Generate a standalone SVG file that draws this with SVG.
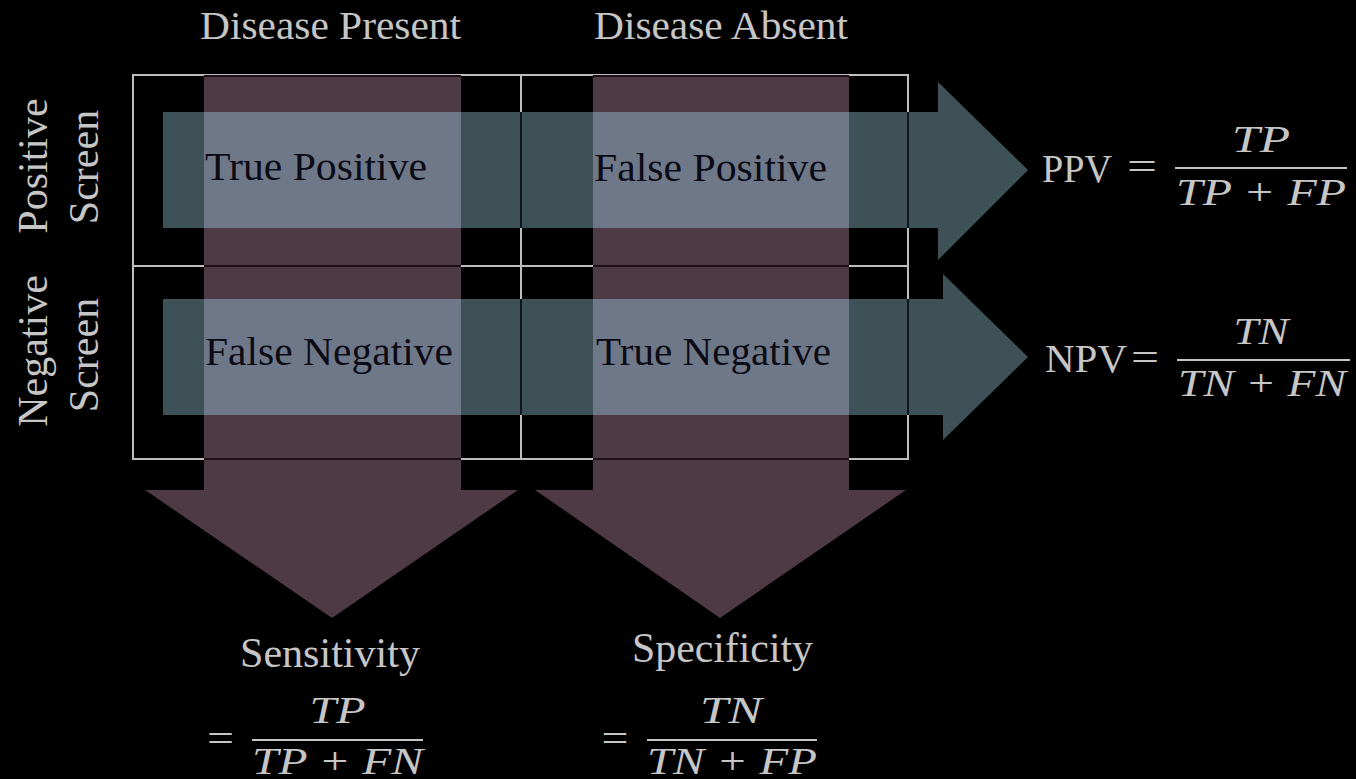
<svg xmlns="http://www.w3.org/2000/svg" width="1356" height="779" viewBox="0 0 1356 779">
  <style>
    .label { font-family: "Liberation Serif", "Times New Roman", serif; fill: #c6c6c6; }
    .cell { font-family: "Liberation Serif", "Times New Roman", serif; font-size: 41px; fill: #0b0b16; }
    .math { font-family: "Liberation Serif", "Times New Roman", serif; font-style: italic; font-size: 38px; fill: #c6c6c6; }
    .grid { stroke: #bdbdbd; stroke-width: 2; fill: none; }
    .down { fill: #4e3a44; }
    .right { fill: #3d5157; }
    .overlap { fill: #6f7888; }
    .seam-v { stroke: #0c161b; stroke-width: 2; }
    .seam-h { stroke: #1e0e16; stroke-width: 2; }
    .bar { stroke: #c6c6c6; stroke-width: 2.2; }
  </style>

  <rect width="1356" height="779" fill="#000"/>

  <!-- 2x2 table frame -->
  <g id="grid">
    <rect class="grid" x="133" y="75" width="775" height="384"/>
    <line class="grid" x1="133" y1="266" x2="908" y2="266"/>
    <line class="grid" x1="521" y1="75" x2="521" y2="459"/>
  </g>

  <g id="connectors">
    <!-- column arrows -->
    <polygon class="down" points="204,75 461,75 461,490 518,490 332,618 145,490 204,490"/>
    <polygon class="down" points="593,75 849,75 849,490 906,490 720,618 535,490 593,490"/>
    <!-- grid lines seen through the column arrows -->
    <line class="seam-h" x1="204" y1="76" x2="461" y2="76"/>
    <line class="seam-h" x1="204" y1="266" x2="461" y2="266"/>
    <line class="seam-h" x1="204" y1="459" x2="461" y2="459"/>
    <line class="seam-h" x1="593" y1="76" x2="849" y2="76"/>
    <line class="seam-h" x1="593" y1="266" x2="849" y2="266"/>
    <line class="seam-h" x1="593" y1="459" x2="849" y2="459"/>

    <!-- row arrows -->
    <polygon class="right" points="163,112 938,112 938,82 1028,170 938,260 938,228 163,228"/>
    <polygon class="right" points="163,299 943,299 943,274 1028,357 943,440 943,415 163,415"/>
    <!-- crossings of row and column arrows -->
    <rect class="overlap" x="204" y="112" width="257" height="116"/>
    <rect class="overlap" x="593" y="112" width="256" height="116"/>
    <rect class="overlap" x="204" y="299" width="257" height="116"/>
    <rect class="overlap" x="593" y="299" width="256" height="116"/>
    <!-- grid lines seen through the row arrows -->
    <line class="seam-v" x1="521" y1="112" x2="521" y2="228"/>
    <line class="seam-v" x1="908" y1="112" x2="908" y2="228"/>
    <line class="seam-v" x1="521" y1="299" x2="521" y2="415"/>
    <line class="seam-v" x1="908" y1="299" x2="908" y2="415"/>
  </g>

  <!-- column headers -->
  <g id="disease-present">
    <text class="label" x="330.5" y="39" font-size="41" text-anchor="middle" textLength="261" lengthAdjust="spacingAndGlyphs">Disease Present</text>
  </g>
  <g id="disease-absent">
    <text class="label" x="721" y="39" font-size="41" text-anchor="middle" textLength="254" lengthAdjust="spacingAndGlyphs">Disease Absent</text>
  </g>

  <!-- row headers -->
  <g id="positive-screen">
    <text class="label" font-size="42" text-anchor="middle" transform="translate(47,166) rotate(-90)">Positive</text>
    <text class="label" font-size="42" text-anchor="middle" transform="translate(98,167) rotate(-90)">Screen</text>
  </g>
  <g id="negative-screen">
    <text class="label" font-size="42" text-anchor="middle" transform="translate(47,351) rotate(-90)">Negative</text>
    <text class="label" font-size="42" text-anchor="middle" transform="translate(98,355) rotate(-90)">Screen</text>
  </g>

  <!-- cells -->
  <g id="true-positive">
    <text class="cell" x="205" y="180" textLength="222" lengthAdjust="spacingAndGlyphs">True Positive</text>
  </g>
  <g id="false-positive">
    <text class="cell" x="594" y="181" textLength="233" lengthAdjust="spacingAndGlyphs">False Positive</text>
  </g>
  <g id="false-negative">
    <text class="cell" x="205" y="365" textLength="248" lengthAdjust="spacingAndGlyphs">False Negative</text>
  </g>
  <g id="true-negative">
    <text class="cell" x="596" y="365" textLength="235" lengthAdjust="spacingAndGlyphs">True Negative</text>
  </g>

  <!-- predictive values -->
  <g id="ppv">
    <text class="label" x="1042" y="182" font-size="40" textLength="70" lengthAdjust="spacingAndGlyphs">PPV</text>
    <text class="label" x="1142" y="180" font-size="40" text-anchor="middle" textLength="30" lengthAdjust="spacingAndGlyphs">=</text>
    <text class="math" x="1261" y="152" text-anchor="middle" textLength="58" lengthAdjust="spacingAndGlyphs">TP</text>
    <line class="bar" x1="1175" y1="168" x2="1347" y2="168"/>
    <text class="math" x="1261" y="205" text-anchor="middle" textLength="170" lengthAdjust="spacingAndGlyphs">TP + FP</text>
  </g>
  <g id="npv">
    <text class="label" x="1045" y="372" font-size="40" textLength="82" lengthAdjust="spacingAndGlyphs">NPV</text>
    <text class="label" x="1145" y="371" font-size="40" text-anchor="middle" textLength="28" lengthAdjust="spacingAndGlyphs">=</text>
    <text class="math" x="1261" y="344" text-anchor="middle" textLength="55" lengthAdjust="spacingAndGlyphs">TN</text>
    <line class="bar" x1="1177" y1="360" x2="1350" y2="360"/>
    <text class="math" x="1262" y="396" text-anchor="middle" textLength="168" lengthAdjust="spacingAndGlyphs">TN + FN</text>
  </g>

  <!-- sensitivity and specificity -->
  <g id="sensitivity">
    <text class="label" x="330" y="667" font-size="42" text-anchor="middle" textLength="180" lengthAdjust="spacingAndGlyphs">Sensitivity</text>
    <text class="label" x="220.5" y="752" font-size="40" text-anchor="middle" textLength="27" lengthAdjust="spacingAndGlyphs">=</text>
    <text class="math" x="337.5" y="723" text-anchor="middle" textLength="56" lengthAdjust="spacingAndGlyphs">TP</text>
    <line class="bar" x1="252" y1="740" x2="423" y2="740"/>
    <text class="math" x="337.5" y="774" text-anchor="middle" textLength="171" lengthAdjust="spacingAndGlyphs">TP + FN</text>
  </g>
  <g id="specificity">
    <text class="label" x="722.5" y="662" font-size="42" text-anchor="middle" textLength="181" lengthAdjust="spacingAndGlyphs">Specificity</text>
    <text class="label" x="615" y="752" font-size="40" text-anchor="middle" textLength="27" lengthAdjust="spacingAndGlyphs">=</text>
    <text class="math" x="731" y="723" text-anchor="middle" textLength="62" lengthAdjust="spacingAndGlyphs">TN</text>
    <line class="bar" x1="647" y1="740" x2="817" y2="740"/>
    <text class="math" x="732" y="774" text-anchor="middle" textLength="170" lengthAdjust="spacingAndGlyphs">TN + FP</text>
  </g>
</svg>
